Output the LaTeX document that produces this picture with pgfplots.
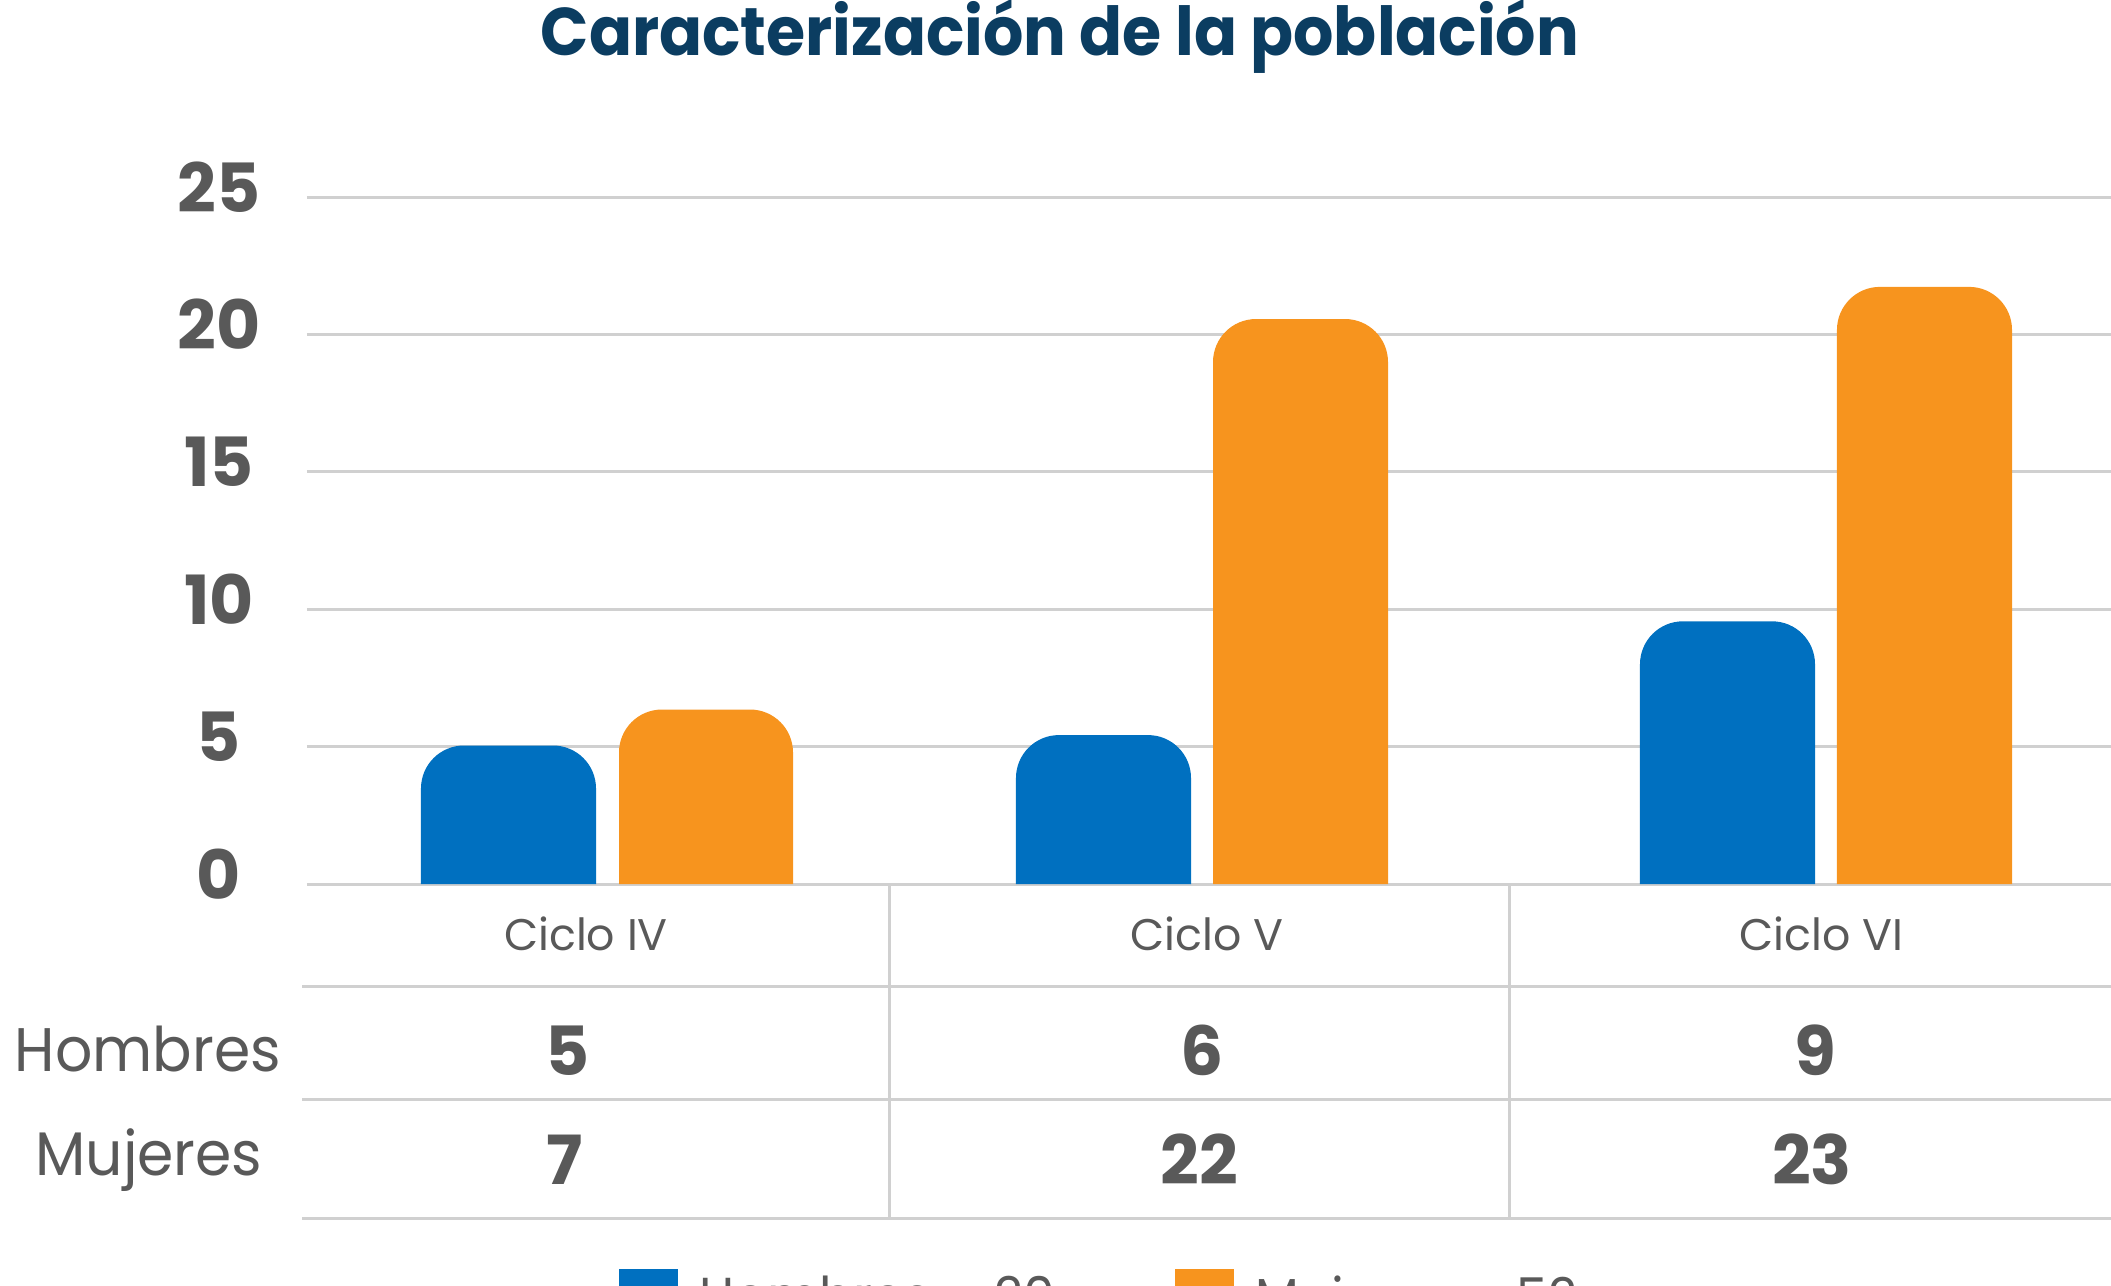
\documentclass[border=0pt]{standalone}
\usepackage{pgfplots}
\pgfplotsset{compat=1.18}
\usepackage{fontspec}
\setmainfont{Poppins}
\newfontfamily\titlefont{Poppins}[FakeStretch=0.94]
\newfontfamily\rowfont{Poppins}[FakeStretch=0.95]
\definecolor{cblue}{HTML}{0070C0}
\definecolor{corange}{HTML}{F7941E}
\definecolor{tgray}{HTML}{595959}
\definecolor{ggray}{HTML}{D0D0D0}
\definecolor{ttitle}{HTML}{0B3D61}
\newcommand{\fs}[1]{\fontsize{#1}{#1}\selectfont}
\begin{document}
\begin{tikzpicture}[x=0.1mm,y=0.1mm]
\useasboundingbox (0,0) rectangle (2111,1285);
\clip (0,0) rectangle (2111,1285);
\begin{axis}[
  at={(30.7mm,40.1mm)}, anchor=south west,
  scale only axis, width=180.4mm, height=68.7mm,
  xmin=-0.4922, xmax=2.4676, ymin=0, ymax=25,
  clip=false,
  axis line style={draw=none},
  major tick length=0pt,
  ytick={0,5,10,15,20,25},
  ymajorgrids, grid style={color=ggray, line width=0.3mm},
  /pgf/number format/assume math mode=true,
  yticklabel style={font=\bfseries\fs{19.3}, text=tgray, anchor=base, xshift=-8.8mm, yshift=-1.5mm},
  xtick={-0.0345,0.984,1.992},
  xticklabels={Ciclo IV, Ciclo V, Ciclo VI},
  xticklabel style={font=\fs{12.6}, text=tgray, anchor=base, yshift=-6.65mm},
  legend columns=2,
  legend style={at={(0.1724,-0.559)}, anchor=north west, draw=none, fill=none, inner sep=0pt,
    font=\rowfont\fs{15.2}, text=tgray,
    /tikz/every odd column/.append style={column sep=1.5mm},
    /tikz/every even column/.append style={column sep=11.2mm}},
  legend image code/.code={\fill[#1] (0mm,-2.95mm) rectangle (5.9mm,2.95mm);},
]
% Hombres
\addplot[fill=cblue, draw=none, rounded corners=4.3mm, forget plot] coordinates {(-0.3052,0) (-0.3052,5.04) (-0.0180,5.04) (-0.0180,0)};
\addplot[fill=cblue, draw=none, rounded corners=4.3mm, forget plot] coordinates {(0.6710,0) (0.6710,5.42) (0.9582,5.42) (0.9582,0)};
\addplot[fill=cblue, draw=none, rounded corners=4.3mm, forget plot] coordinates {(1.6948,0) (1.6948,9.56) (1.9820,9.56) (1.9820,0)};
% Mujeres
\addplot[fill=corange, draw=none, rounded corners=4.3mm, forget plot] coordinates {(0.0197,0) (0.0197,6.35) (0.3052,6.35) (0.3052,0)};
\addplot[fill=corange, draw=none, rounded corners=4.3mm, forget plot] coordinates {(0.9943,0) (0.9943,20.56) (1.2814,20.56) (1.2814,0)};
\addplot[fill=corange, draw=none, rounded corners=4.3mm, forget plot] coordinates {(2.0180,0) (2.0180,21.73) (2.3052,21.73) (2.3052,0)};
\addlegendimage{fill=cblue, draw=none}
\addlegendentry{Hombres = 20}
\addlegendimage{fill=corange, draw=none}
\addlegendentry{Mujeres = 52}
\end{axis}
% data table below the chart
\begin{scope}[ggray, line width=0.3mm]
\draw (302,299) -- (2111,299);
\draw (302,186) -- (2111,186);
\draw (302,67) -- (2111,67);
\draw (889,401) -- (889,67);
\draw (1509,401) -- (1509,67);
\end{scope}
\begin{scope}[every node/.style={anchor=base, inner sep=0pt, text=tgray}]
\node[font=\rowfont\fs{17.5}] at (148,213.5) {Hombres};
\node[font=\rowfont\fs{17.5}] at (149,110) {Mujeres};
\node[font=\bfseries\fs{19.3}] at (568,210) {5};
\node[font=\bfseries\fs{19.3}] at (1202,210) {6};
\node[font=\bfseries\fs{19.3}] at (1815,210) {9};
\node[font=\bfseries\fs{19.3}] at (565,101) {7};
\node[font=\bfseries\fs{19.3}] at (1199,101) {22};
\node[font=\bfseries\fs{19.3}] at (1812,101) {23};
\node[font=\titlefont\bfseries\fs{19.2}, text=ttitle] at (1060,1229) {Caracterización de la población};
\end{scope}
\end{tikzpicture}
\end{document}
